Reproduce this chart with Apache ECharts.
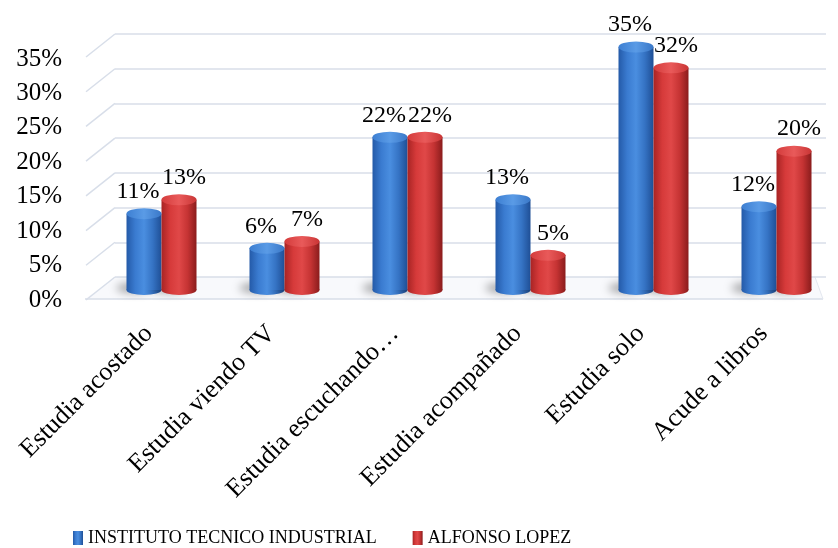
<!DOCTYPE html>
<html>
<head>
<meta charset="utf-8">
<script src="https://cdn.jsdelivr.net/npm/echarts@6/dist/echarts.min.js"></script>
<style>html,body{margin:0;padding:0;background:#fff;}#c{width:838px;height:548px;}</style>
</head>
<body>
<div id="c"></div>
<script>
const categories = ['Estudia acostado', 'Estudia viendo TV', 'Estudia escuchando…', 'Estudia acompañado', 'Estudia solo', 'Acude a libros'];
const seriesNames = ['INSTITUTO TECNICO INDUSTRIAL', 'ALFONSO LOPEZ'];
const institutoValues = [11, 6, 22, 13, 35, 12];
const alfonsoValues = [13, 7, 22, 5, 32, 20];
const yTicks = [0, 5, 10, 15, 20, 25, 30, 35];

const FONT = '"Liberation Serif", "Times New Roman", serif';
const BW = 35;

function grad(stops) {
  return new echarts.graphic.LinearGradient(0, 0, 1, 0, stops.map((c, i) => ({offset: i / (stops.length - 1), color: c})));
}
const blueBody = grad(['#245aa8', '#3a7bd0', '#4a8ee0', '#3573c4', '#1f4f96']);
const redBody = grad(['#a82424', '#d63a3a', '#e04848', '#c53333', '#8a1c1c']);
const blueTop = grad(['#3d7fd2', '#5a9be6', '#3a78c8']);
const redTop = grad(['#d43c3c', '#e95a5a', '#c93535']);

function cap(name, values, color, pos, dx, extra) {
  return Object.assign({
    name: name, type: 'pictorialBar', xAxisIndex: 1, yAxisIndex: 1, data: values,
    barWidth: BW, barGap: '-100%', symbol: 'circle',
    symbolPosition: pos, symbolOffset: [dx, pos === 'end' ? '-50%' : '50%'],
    symbolSize: [BW, pos === 'end' ? 11 : 10],
    itemStyle: {color: color}, z: pos === 'end' ? 4 : 2
  }, extra || {});
}
const shadow = {shadowColor: 'rgba(0,0,0,0.35)', shadowBlur: 8, shadowOffsetX: -10, shadowOffsetY: -2};

const chart = echarts.init(document.getElementById('c'));
const option = {
  animation: false,
  grid: [
    {left: 115, right: 12, top: 34, height: 243},
    {left: 100, width: 738, top: 47, height: 243},
    {left: 66, width: 10, top: 59, height: 241}
  ],
  xAxis: [
    {gridIndex: 0, type: 'category', data: categories, show: false},
    {gridIndex: 1, type: 'category', data: categories,
      axisLine: {show: false}, axisTick: {show: false},
      axisLabel: {rotate: 45, interval: 0, fontFamily: FONT, fontSize: 26, color: '#000', margin: 27, padding: [0, 18, 0, 0]}},
    {gridIndex: 2, type: 'category', data: [''], show: false}
  ],
  yAxis: [
    {gridIndex: 0, type: 'value', min: 0, max: 35, interval: 5,
      axisLine: {show: false}, axisTick: {show: false}, axisLabel: {show: false},
      splitLine: {show: true, lineStyle: {color: '#d8dee9', width: 1.5}}},
    {gridIndex: 1, type: 'value', min: 0, max: 35, interval: 5, show: false},
    {gridIndex: 2, type: 'value', min: 0, max: 35, interval: 5,
      axisLine: {show: false}, axisTick: {show: false}, splitLine: {show: false},
      axisLabel: {formatter: '{value}%', fontFamily: FONT, fontSize: 25, color: '#000', margin: 4}}
  ],
  legend: {
    data: seriesNames,
    left: 73, top: 529, padding: 0,
    icon: 'rect', itemWidth: 10, itemHeight: 14, itemGap: 36,
    textStyle: {fontFamily: FONT, fontSize: 18, color: '#000'}
  },
  series: [
    {name: seriesNames[0], type: 'bar', xAxisIndex: 1, yAxisIndex: 1, data: institutoValues,
      barWidth: BW, barGap: '0%', itemStyle: {color: blueBody}, z: 3,
      label: {show: true, position: 'top', distance: 10, offset: [-6, 0], formatter: '{c}%', fontFamily: FONT, fontSize: 24, color: '#000'}},
    {name: seriesNames[1], type: 'bar', xAxisIndex: 1, yAxisIndex: 1, data: alfonsoValues,
      barWidth: BW, barGap: '0%', itemStyle: {color: redBody}, z: 3,
      label: {show: true, position: 'top', distance: 10, offset: [5, 0], formatter: '{c}%', fontFamily: FONT, fontSize: 24, color: '#000'}},
    cap('blueBottom', institutoValues, blueBody, 'start', -BW / 2, {itemStyle: Object.assign({color: blueBody}, shadow)}),
    cap('redBottom', alfonsoValues, redBody, 'start', BW / 2, {itemStyle: Object.assign({color: redBody}, shadow)}),
    cap('blueTop', institutoValues, blueTop, 'end', -BW / 2),
    cap('redTop', alfonsoValues, redTop, 'end', BW / 2)
  ]
};
chart.setOption(option);

// back-wall side lines and floor, positioned from the axis scale
const backLeft = 115, frontLeft = 86, depth = 23;
const elements = [];
const y0 = chart.convertToPixel({yAxisIndex: 0}, 0);
elements.push({type: 'polygon', z: -1, shape: {points: [[backLeft, y0], [815, y0], [823, y0 + 22], [frontLeft - 1, y0 + 22]]},
  style: {fill: '#f8f9fc', stroke: null}});
elements.push({type: 'line', z: -1, shape: {x1: frontLeft - 1, y1: y0 + 22, x2: 823, y2: y0 + 22}, style: {stroke: '#d8dee9', lineWidth: 1.5}});
elements.push({type: 'line', z: -1, shape: {x1: 815, y1: y0, x2: 823, y2: y0 + 22}, style: {stroke: '#e3e7ef', lineWidth: 1}});
yTicks.forEach(v => {
  const y = chart.convertToPixel({yAxisIndex: 0}, v);
  elements.push({type: 'line', z: -1, shape: {x1: frontLeft, y1: y + depth, x2: backLeft, y2: y},
    style: {stroke: '#d8dee9', lineWidth: 1.5}});
});
chart.setOption({graphic: {elements: elements}});
</script>
</body>
</html>
